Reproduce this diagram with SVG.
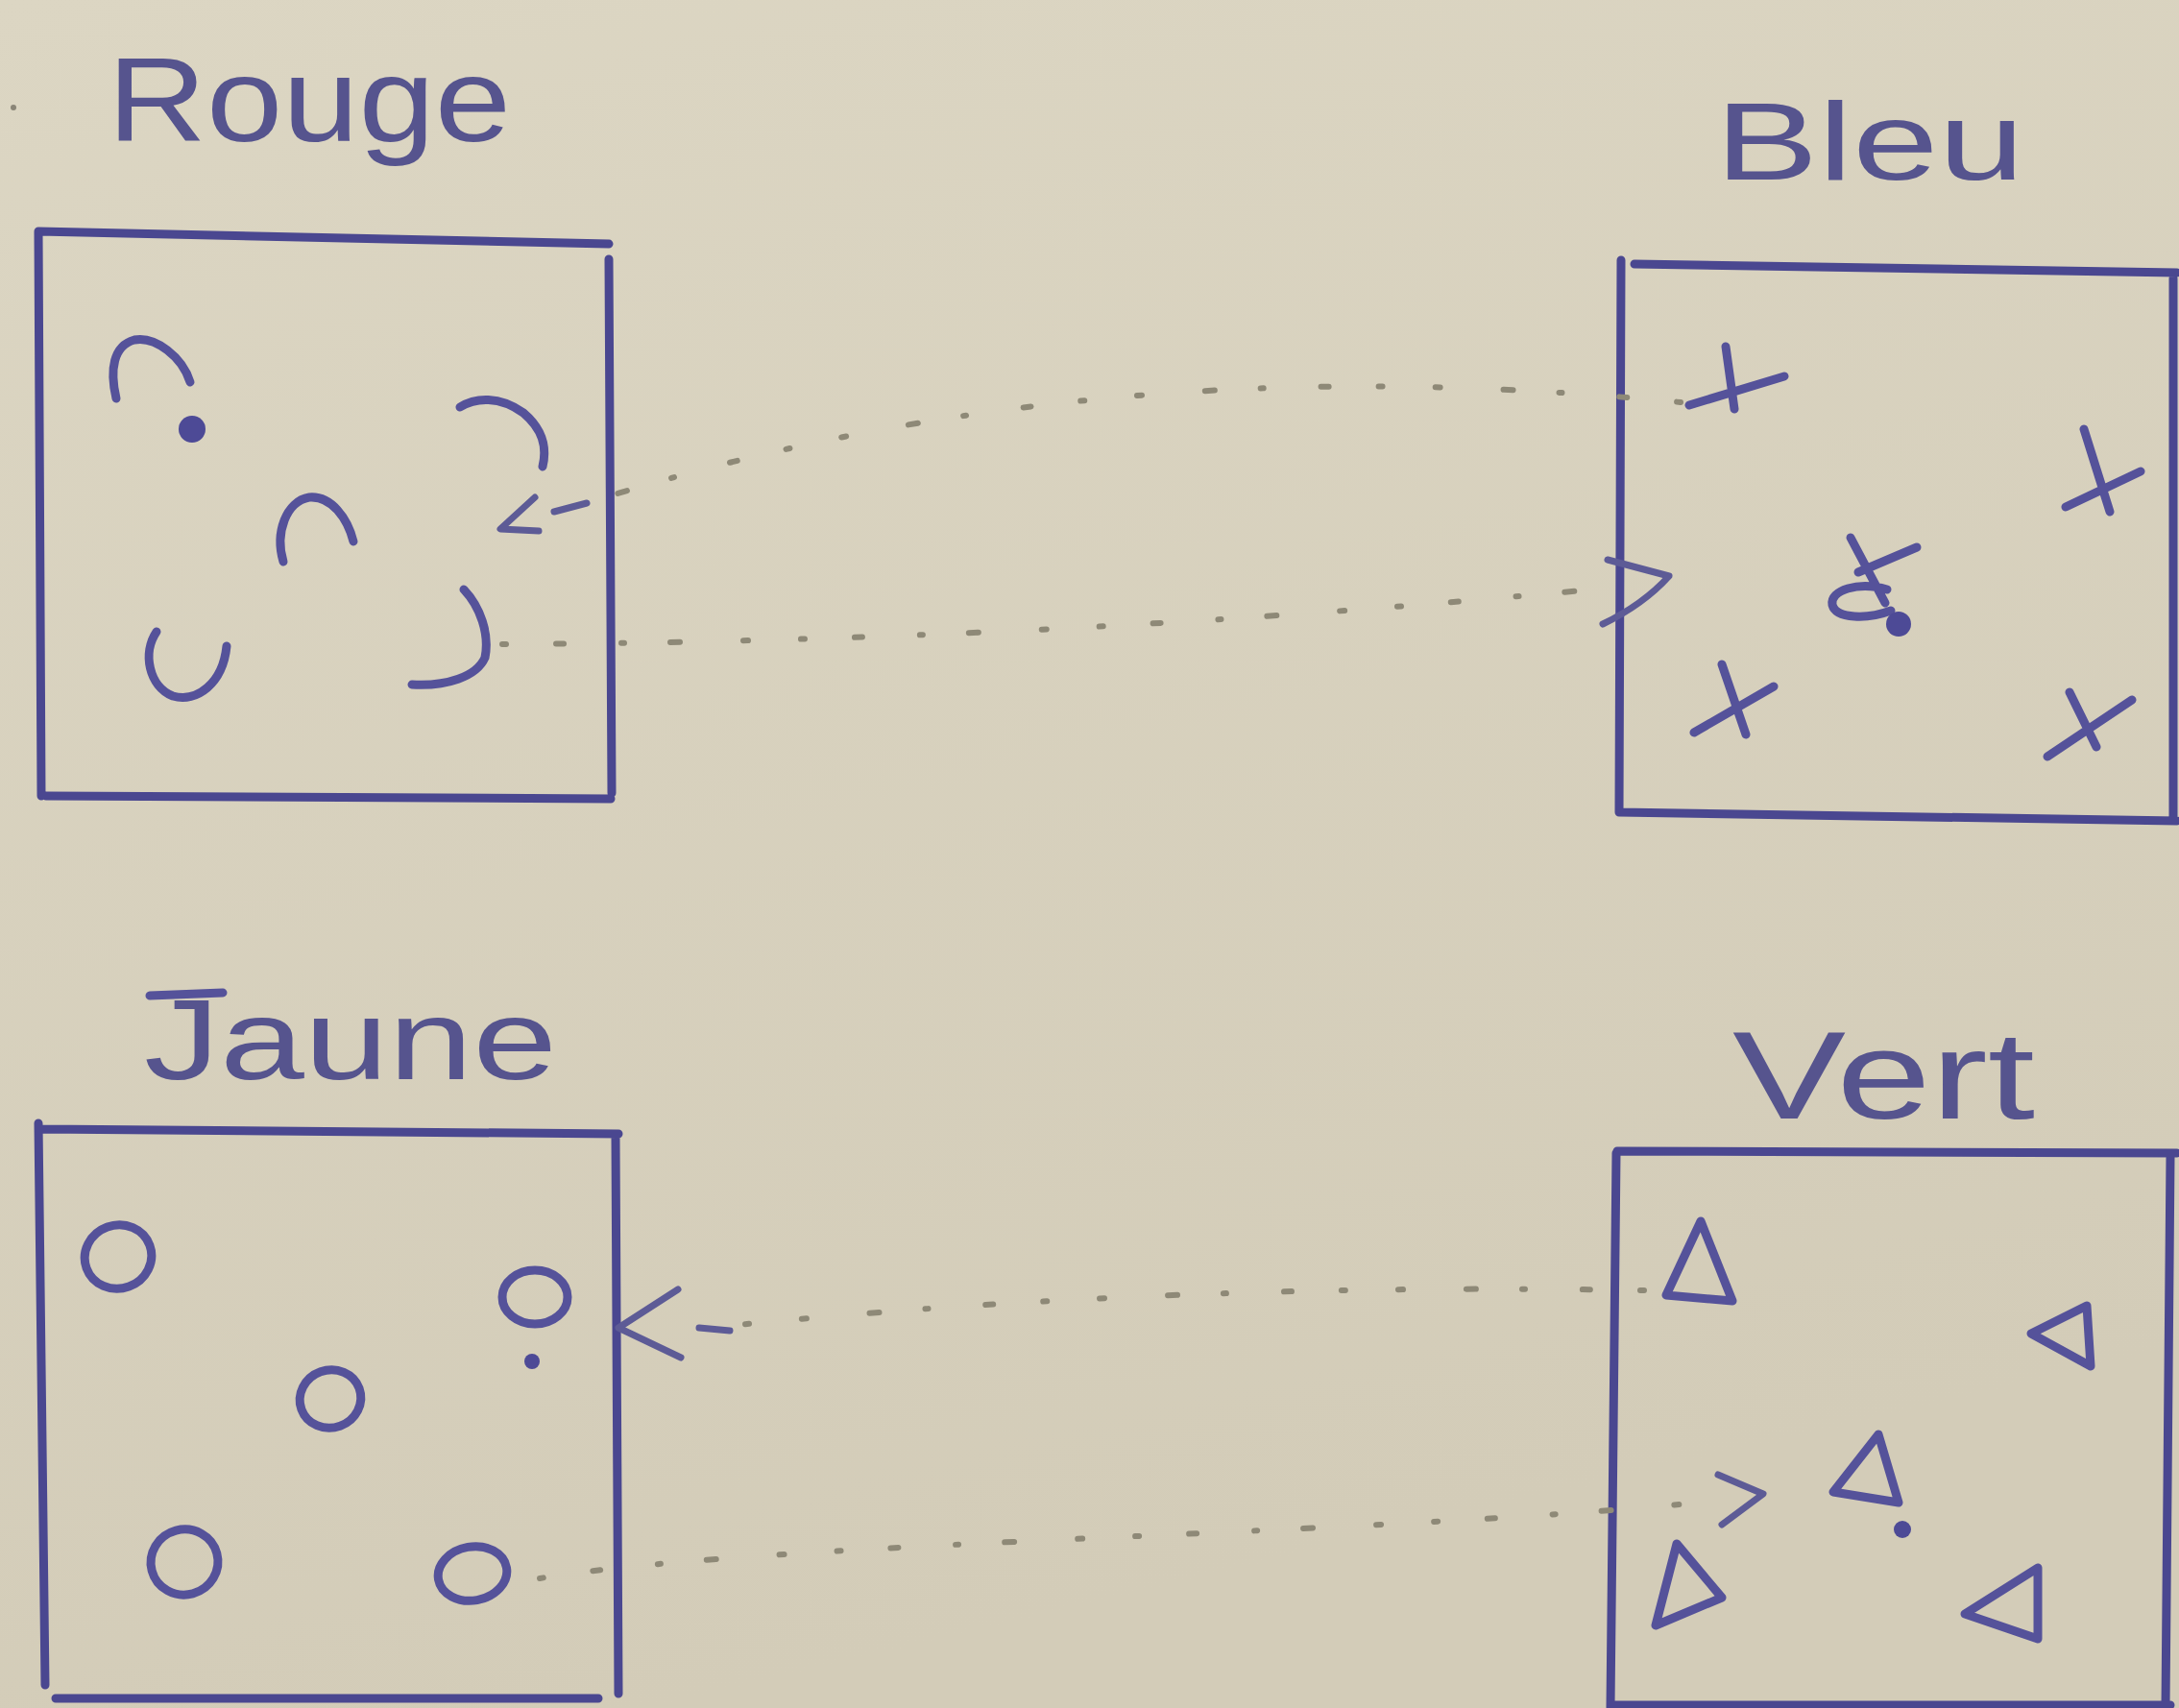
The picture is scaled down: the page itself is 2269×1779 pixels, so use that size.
<svg xmlns="http://www.w3.org/2000/svg" width="2269" height="1779" viewBox="0 0 2269 1779">
<defs>
<linearGradient id="paper" x1="0" y1="0" x2="0.3" y2="1">
<stop offset="0" stop-color="#dcd6c3"/>
<stop offset="1" stop-color="#d3ccb8"/>
</linearGradient>
</defs>
<style>
.box{fill:none;stroke:#4a4790;stroke-width:9;stroke-linecap:round;stroke-linejoin:round}
.sym{fill:none;stroke:#55529a;stroke-width:9;stroke-linecap:round;stroke-linejoin:round}
.dot{fill:#4d4a96}
.lbl{font-family:"Liberation Sans","DejaVu Sans",sans-serif;font-size:125px;fill:#56548e}
.conn{fill:none;stroke:#8e8977;stroke-width:6;stroke-linecap:round;stroke-dasharray:4 52 8 60 3 48 10 66 5 55}
.head{fill:none;stroke:#5d5b96;stroke-width:7;stroke-linecap:round;stroke-linejoin:round}
</style>
<rect x="0" y="0" width="2269" height="1779" fill="url(#paper)"/>
<circle cx="14" cy="112" r="3" fill="#8a8577"/>

<g id="rouge">
<text class="lbl" x="112" y="147" textLength="420" lengthAdjust="spacingAndGlyphs">Rouge</text>
<path class="box" d="M40,241 L634,254 M634,270 L637,826 M636,832 L48,829 M43,829 L40,241"/>
<path class="sym" d="M121,415 C114,385 118,360 140,354 C162,350 190,372 198,398"/>
<circle class="dot" cx="200" cy="447" r="14"/>
<path class="sym" d="M479,424 C495,414 520,412 545,430 C565,447 570,465 565,486"/>
<path class="sym" d="M295,585 C286,555 298,522 322,518 C345,516 362,540 368,564"/>
<path class="sym" d="M163,658 C148,680 155,715 180,725 C205,732 232,712 236,673"/>
<path class="sym" d="M483,614 C500,632 510,660 505,685 C496,705 465,715 429,713"/>
</g>

<g id="bleu">
<text class="lbl" x="1786" y="187" textLength="322" lengthAdjust="spacingAndGlyphs" style="font-size:115px">Bleu</text>
<path class="box" d="M1688,271 L1686,846 M1702,275 L2267,284 M2263,290 L2263,850 M1686,846 L2267,855"/>
<path class="sym" d="M1797,361 L1806,426 M1759,422 L1858,392"/>
<path class="sym" d="M2170,447 L2197,533 M2151,528 L2229,491"/>
<path class="sym" d="M1927,560 L1963,628 M1935,596 L1996,570 M1965,614 C1935,605 1905,615 1908,630 C1912,645 1945,645 1969,636"/>
<circle class="dot" cx="1977" cy="650" r="13"/>
<path class="sym" d="M1793,692 L1818,765 M1764,763 L1847,715"/>
<path class="sym" d="M2155,721 L2183,778 M2132,788 L2220,729"/>
</g>

<g id="jaune">
<text class="lbl" x="150" y="1124" textLength="430" lengthAdjust="spacingAndGlyphs" style="font-size:118px">Jaune</text>
<path class="sym" d="M156,1037 L232,1034"/>
<path class="box" d="M40,1170 L47,1755 M43,1176 L644,1181 M641,1184 L644,1764 M58,1769 L623,1769"/>
<ellipse class="sym" cx="123" cy="1309" rx="35" ry="33" transform="rotate(-20 123 1309)"/>
<ellipse class="sym" cx="557" cy="1351" rx="34" ry="28"/>
<circle class="dot" cx="554" cy="1418" r="8"/>
<ellipse class="sym" cx="344" cy="1457" rx="32" ry="30" transform="rotate(-20 344 1457)"/>
<ellipse class="sym" cx="192" cy="1627" rx="35" ry="34" transform="rotate(-15 192 1627)"/>
<ellipse class="sym" cx="492" cy="1639" rx="36" ry="28" transform="rotate(-10 492 1639)"/>
</g>

<g id="vert">
<text class="lbl" x="1804" y="1165" textLength="315" lengthAdjust="spacingAndGlyphs" style="font-size:130px">Vert</text>
<path class="box" d="M1684,1199 L2267,1201 M1683,1201 L1677,1778 M2260,1204 L2255,1778 M1680,1776 L2260,1776"/>
<path class="sym" d="M1771,1272 L1735,1349 L1804,1355 Z"/>
<path class="sym" d="M2115,1389 L2173,1360 L2177,1423 Z"/>
<path class="sym" d="M1956,1494 L1909,1554 L1977,1565 Z"/>
<circle class="dot" cx="1981" cy="1593" r="9"/>
<path class="sym" d="M1746,1608 L1724,1693 L1793,1664 Z"/>
<path class="sym" d="M2046,1681 L2122,1633 L2122,1707 Z"/>
</g>

<g id="connectors">
<path class="conn" d="M1750,419 C1450,390 1050,385 611,524"/>
<path class="head" d="M557,518 L521,551 L561,553 M577,533 L611,524"/>
<path class="conn" d="M523,671 Q1100,668 1668,613"/>
<path class="head" d="M1674,583 L1738,600 C1720,620 1700,635 1669,650"/>
<path class="conn" d="M1712,1344 Q1200,1335 728,1384"/>
<path class="head" d="M706,1343 L644,1383 L709,1414 M728,1383 L760,1386"/>
<path class="conn" d="M562,1644 C800,1605 1400,1600 1760,1566"/>
<path class="head" d="M1789,1536 L1836,1556 L1793,1588"/>
</g>
</svg>
